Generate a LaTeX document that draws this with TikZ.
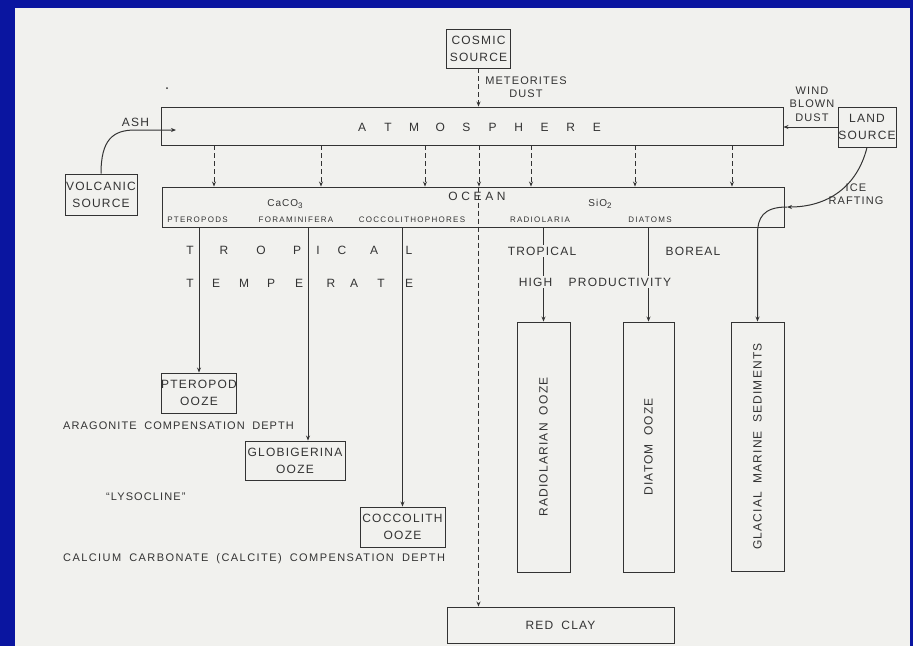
\documentclass[tikz,border=0pt]{standalone}
\usepackage{fontspec}
\usetikzlibrary{arrows.meta}
\newfontfamily\lettering{Liberation Sans}[LetterSpace=10, WordSpace=1.8]
\newfontfamily\smalllettering{Liberation Sans}[LetterSpace=16, WordSpace=1.5]
\definecolor{slide-blue}{HTML}{0A15A0}
\definecolor{paper}{HTML}{F1F1EE}
\definecolor{ink}{HTML}{333333}

\begin{document}
\begin{tikzpicture}[x=1pt, y=-1pt,
      every node/.style={font=\lettering\fontsize{12}{17}\selectfont,
        text=ink, inner sep=1pt},
      box/.style={draw=ink, line width=0.9pt, align=center, inner sep=0pt},
      small/.style={font=\smalllettering\fontsize{8}{9}\selectfont},
      mid/.style={font=\lettering\fontsize{11}{13.5}\selectfont},
      cut/.style={fill=paper, inner sep=1.5pt},
      flow/.style={draw=ink, line width=1pt, -{Stealth[length=5pt, width=4pt]}},
      drop/.style={flow, dash pattern=on 5pt off 3pt}]
    % slide and paper
    \fill[slide-blue] (0,0) rectangle (913,646);
    \fill[paper] (15,8) rectangle (910,646);
    \fill[ink] (167,88) circle (1pt);

    % sources
    \node[box, minimum width=64pt, minimum height=39pt] (cosmic) at (478.5,48.5)
          {COSMIC\\SOURCE};
    \node[box, minimum width=72pt, minimum height=41pt] (volcanic) at (101,194.5)
          {VOLCANIC\\SOURCE};
    \node[box, minimum width=58pt, minimum height=40pt] (land) at (867,127)
          {LAND\\SOURCE};

    % atmosphere and ocean
    \node[box, minimum width=622pt, minimum height=38pt] (atmos) at (472,126) {};
    \foreach \c [count=\i from 0] in {A,T,M,O,S,P,H,E,R,E}
      \node (atmos-\i) at (362+26.1*\i,127) {\c};
    \node[box, minimum width=622pt, minimum height=40pt] (ocean) at (473,207) {};
    \node (ocean-name) at (477,196) {\addfontfeature{LetterSpace=30}OCEAN};
    \node[font=\lettering\fontsize{10}{12}\selectfont] (caco3) at (285,204)
          {CaCO\raisebox{-2pt}{\fontsize{8}{9}\selectfont 3}};
    \node[font=\lettering\fontsize{10}{12}\selectfont] (sio2) at (600,204)
          {SiO\raisebox{-2pt}{\fontsize{8}{9}\selectfont 2}};
    \node[small] (pteropods) at (197.5,220) {PTEROPODS};
    \node[small] (foram) at (296,220) {FORAMINIFERA};
    \node[small] (coccos) at (412,220) {COCCOLITHOPHORES};
    \node[small] (radiolaria) at (540,220) {RADIOLARIA};
    \node[small] (diatoms) at (650,220) {DIATOMS};

    % sediments
    \node[box, minimum width=71pt, minimum height=40pt] (ptero) at (199,393)
          {PTEROPOD\\OOZE};
    \node[box, minimum width=100pt, minimum height=39pt] (globi) at (295,460.5)
          {GLOBIGERINA\\OOZE};
    \node[box, minimum width=85pt, minimum height=40pt] (cocco) at (402.5,527)
          {COCCOLITH\\OOZE};
    \node[box, minimum width=53pt, minimum height=250pt] (radio) at (543.5,447) {};
    \node[rotate=90] (radio-text) at (radio.center) {RADIOLARIAN\ OOZE};
    \node[box, minimum width=51pt, minimum height=250pt] (diatom) at (648.5,447) {};
    \node[rotate=90] (diatom-text) at (diatom.center) {DIATOM\ OOZE};
    \node[box, minimum width=53pt, minimum height=249pt] (glacial) at (757.5,446.5) {};
    \node[rotate=90] (glacial-text) at (glacial.center) {GLACIAL\ MARINE\ SEDIMENTS};
    \node[box, minimum width=227pt, minimum height=36pt] (redclay) at (560.5,625)
          {RED\ CLAY};

    % inputs to the atmosphere
    \coordinate (ash-in) at (176,130);
    \draw[flow] (volcanic.north) .. controls +(0,-34) and +(-22,0) .. (135,130)
          -- (ash-in);
    \node (ash) at (135.5,122) {ASH};
    \draw[flow] (land.west) -- (land.west -| atmos.east);
    \node[mid, align=center] (wind) at (812,104) {WIND\\BLOWN\\DUST};
    \draw[drop] (cosmic.south) -- (cosmic.south |- atmos.north);
    \node[mid, align=center] (meteor) at (526,87) {METEORITES\\DUST};

    % fallout to the ocean
    \foreach \x in {214,321,425,479,531,635,732}
      \draw[drop] (\x,0 |- atmos.south) -- (\x,0 |- ocean.north);
    \draw[drop] (cosmic.south |- ocean.north) -- (cosmic.south |- redclay.north);

    % ice rafting
    \coordinate (ice-in) at (787,207);
    \coordinate (ice-turn) at (757.5,234);
    \draw[flow] (land.south) .. controls +(-10,40) and +(40,0) .. (ice-in);
    \draw[flow] (ice-in) .. controls +(-24,0) and +(0,-16) .. (ice-turn)
          -- (glacial.north);
    \node[mid, align=center] (ice) at (856,194) {ICE\\RAFTING};

    % settling
    \coordinate (globi-in) at (308,0);
    \draw[flow] (ptero.north |- ocean.south) -- (ptero.north);
    \draw[flow] (globi-in |- ocean.south) -- (globi-in |- globi.north);
    \draw[flow] (cocco.north |- ocean.south) -- (cocco.north);
    \draw[flow] (radio.north |- ocean.south) -- (radio.north);
    \draw[flow] (diatom.north |- ocean.south) -- (diatom.north);

    % belts
    \foreach \x/\c [count=\i] in {190/T,224/R,261/O,297/P,318/I,342/C,374/A,409/L}
      \node (trop-\i) at (\x,250) {\c};
    \foreach \x/\c [count=\i] in {190/T,216/E,244/M,271/P,299/E,331/R,354/A,381/T,409/E}
      \node (temp-\i) at (\x,283) {\c};
    \node[cut] (tropical) at (542,251) {TROPICAL};
    \node (boreal) at (693,251) {BOREAL};
    \node[cut] (highprod) at (595,282) {HIGH\ \ PRODUCTIVITY};

    % depths
    \node[mid, anchor=west] (acd) at (62,426) {ARAGONITE\ COMPENSATION\ DEPTH};
    \node[mid, anchor=west] (lyso) at (105,497) {“LYSOCLINE”};
    \node[mid, anchor=west] (ccd) at (62,559)
          {\addfontfeature{LetterSpace=13}CALCIUM\ CARBONATE\ (CALCITE)\ COMPENSATION\ DEPTH};
  \end{tikzpicture}
\end{document}
